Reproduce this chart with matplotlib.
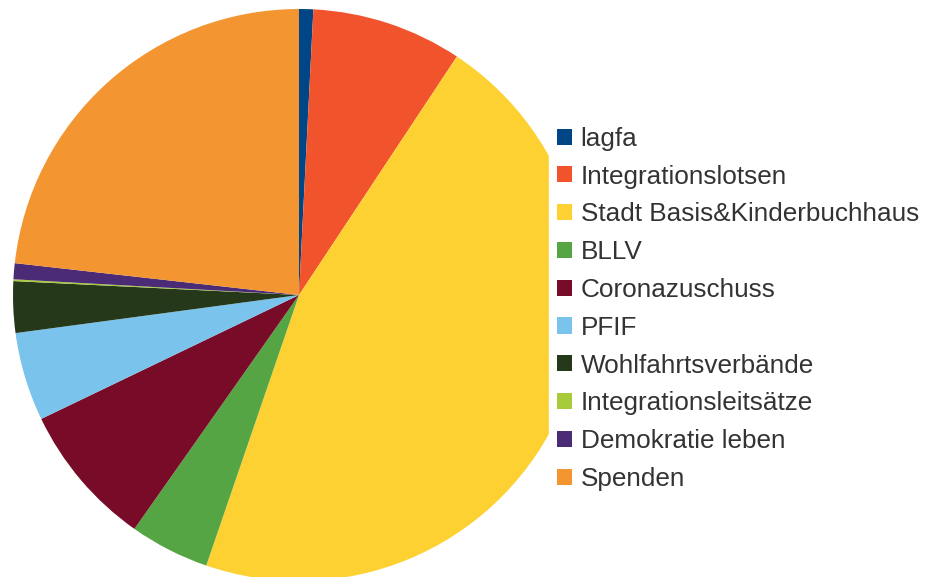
import matplotlib
matplotlib.use("Agg")
import matplotlib.pyplot as plt
from matplotlib.patches import Patch

labels = ["lagfa", "Integrationslotsen", "Stadt Basis&Kinderbuchhaus", "BLLV",
          "Coronazuschuss", "PFIF", "Wohlfahrtsverbände", "Integrationsleitsätze",
          "Demokratie leben", "Spenden"]
values = [0.8, 8.5, 45.9, 4.5, 8.1, 5.0, 2.9, 0.1, 0.9, 23.2]
colors = ["#004586", "#F1542D", "#FDD131", "#55A544", "#780C28", "#7AC3EC",
          "#25381A", "#A8CB3C", "#4B2B76", "#F39531"]

plt.rcParams['font.family'] = ['Liberation Sans', 'DejaVu Sans']

fig = plt.figure(figsize=(9.38, 5.77), dpi=100)
W, H = 938, 577
cx, cy, r = 299, 295, 286
ax = fig.add_axes([(cx - r) / W, (H - cy - r) / H, 2 * r / W, 2 * r / H])
ax.pie(values, colors=colors, startangle=90, counterclock=False, radius=1,
       wedgeprops=dict(linewidth=0))
ax.set_xlim(-1, 1)
ax.set_ylim(-1, 1)
ax.set_aspect('equal')
ax.axis('off')

handles = [Patch(facecolor=c, edgecolor='none') for c in colors]
leg = fig.legend(handles, labels, loc='upper left',
                 bbox_to_anchor=(549 / W, 1 - 119 / H),
                 fontsize=18.8, frameon=True, framealpha=1, edgecolor='white',
                 facecolor='white', fancybox=False,
                 handlelength=0.575, handleheight=0.575, handletextpad=0.34,
                 labelspacing=0.528, borderpad=0.3, borderaxespad=0)
for t in leg.get_texts():
    t.set_color('#333333')

fig.savefig("out.png", dpi=100)
